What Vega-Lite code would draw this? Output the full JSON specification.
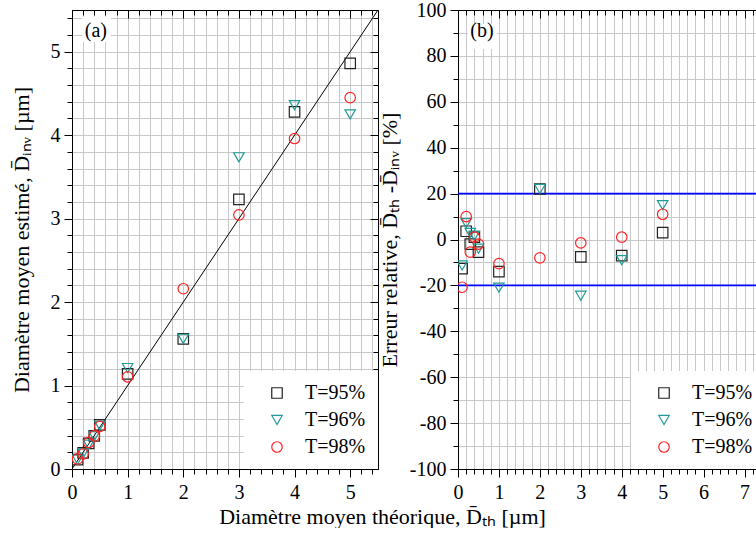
{
  "$schema": "https://vega.github.io/schema/vega-lite/v6.json",
  "background": "white",
  "padding": {"left": 9, "top": -1, "right": 0, "bottom": 0},
  "config": {
    "font": "Liberation Serif",
    "view": {"stroke": "#000", "strokeWidth": 1},
    "axis": {
      "labelFont": "Liberation Serif", "labelFontSize": 20, "labelColor": "#000",
      "titleFont": "Liberation Serif", "titleFontSize": 22, "titleFontWeight": "normal", "titleColor": "#000",
      "domainColor": "#000", "domainWidth": 1, "tickColor": "#000", "tickWidth": 1,
      "gridColor": "#c8c8c8", "gridWidth": 1, "labelFlush": false, "labelOverlap": false
    },
    "legend": {
      "orient": "bottom-right", "offset": 0, "padding": 12, "fillColor": "white",
      "labelFont": "Liberation Serif", "labelFontSize": 20, "labelColor": "#000",
      "symbolSize": 110, "symbolStrokeWidth": 1.2, "symbolOffset": 11, "labelOffset": 18, "rowPadding": 7
    }
  },
  "datasets": {
    "pts": [
      {"T": "T=95%", "Dth": 0.1, "Dinv": 0.113, "err": -12.7},
      {"T": "T=95%", "Dth": 0.2, "Dinv": 0.193, "err": 3.6},
      {"T": "T=95%", "Dth": 0.3, "Dinv": 0.306, "err": -2},
      {"T": "T=95%", "Dth": 0.4, "Dinv": 0.396, "err": 1},
      {"T": "T=95%", "Dth": 0.5, "Dinv": 0.528, "err": -5.5},
      {"T": "T=95%", "Dth": 1, "Dinv": 1.14, "err": -14},
      {"T": "T=95%", "Dth": 2, "Dinv": 1.56, "err": 22},
      {"T": "T=95%", "Dth": 3, "Dinv": 3.23, "err": -7.6},
      {"T": "T=95%", "Dth": 4, "Dinv": 4.28, "err": -7},
      {"T": "T=95%", "Dth": 5, "Dinv": 4.86, "err": 3},
      {"T": "T=96%", "Dth": 0.1, "Dinv": 0.111, "err": -11.3},
      {"T": "T=96%", "Dth": 0.2, "Dinv": 0.186, "err": 7.1},
      {"T": "T=96%", "Dth": 0.3, "Dinv": 0.291, "err": 2.9},
      {"T": "T=96%", "Dth": 0.4, "Dinv": 0.393, "err": 1.7},
      {"T": "T=96%", "Dth": 0.5, "Dinv": 0.52, "err": -4},
      {"T": "T=96%", "Dth": 1, "Dinv": 1.21, "err": -21},
      {"T": "T=96%", "Dth": 2, "Dinv": 1.56, "err": 22},
      {"T": "T=96%", "Dth": 3, "Dinv": 3.735, "err": -24.5},
      {"T": "T=96%", "Dth": 4, "Dinv": 4.36, "err": -9},
      {"T": "T=96%", "Dth": 5, "Dinv": 4.25, "err": 15},
      {"T": "T=98%", "Dth": 0.1, "Dinv": 0.121, "err": -20.8},
      {"T": "T=98%", "Dth": 0.2, "Dinv": 0.18, "err": 10},
      {"T": "T=98%", "Dth": 0.3, "Dinv": 0.3165, "err": -5.5},
      {"T": "T=98%", "Dth": 0.4, "Dinv": 0.396, "err": 1},
      {"T": "T=98%", "Dth": 0.5, "Dinv": 0.51, "err": -2},
      {"T": "T=98%", "Dth": 1, "Dinv": 1.105, "err": -10.5},
      {"T": "T=98%", "Dth": 2, "Dinv": 2.16, "err": -8},
      {"T": "T=98%", "Dth": 3, "Dinv": 3.045, "err": -1.5},
      {"T": "T=98%", "Dth": 4, "Dinv": 3.96, "err": 1},
      {"T": "T=98%", "Dth": 5, "Dinv": 4.45, "err": 11}
    ],
    "diag": [{"x": 0, "y": 0}, {"x": 5.5, "y": 5.5}],
    "ref": [{"y": 20}, {"y": -20}],
    "labA": [{"p": "(a)"}],
    "labB": [{"p": "(b)"}]
  },
  "spacing": 80,
  "bounds": "flush",
  "resolve": {"scale": {"color": "independent", "shape": "independent"}},
  "hconcat": [
    {
      "width": 306,
      "height": 459,
      "resolve": {"axis": {"x": "independent", "y": "independent"}},
      "layer": [
        {
          "data": {"name": "labA"},
          "mark": {"type": "rect", "fill": "white", "stroke": null},
          "encoding": {
            "x": {"datum": 0.18, "type": "quantitative", "scale": {"domain": [0, 5.5], "nice": false, "zero": false},
              "axis": {"orient": "top", "values": [0,0.2,0.4,0.6,0.8,1,1.2,1.4,1.6,1.8,2,2.2,2.4,2.6,2.8,3,3.2,3.4,3.6,3.8,4,4.2,4.4,4.6,4.8,5,5.2,5.4],
                "labels": false, "grid": false, "title": null,
                "tickSize": {"condition": {"test": "datum.value % 1 === 0", "value": -8}, "value": -5}}},
            "x2": {"datum": 0.7},
            "y": {"datum": 5.12, "type": "quantitative", "scale": {"domain": [0, 5.5], "nice": false, "zero": false},
              "axis": {"orient": "right", "values": [0,0.2,0.4,0.6,0.8,1,1.2,1.4,1.6,1.8,2,2.2,2.4,2.6,2.8,3,3.2,3.4,3.6,3.8,4,4.2,4.4,4.6,4.8,5,5.2,5.4],
                "labels": false, "grid": false, "title": null,
                "tickSize": {"condition": {"test": "datum.value % 1 === 0", "value": -8}, "value": -5}}},
            "y2": {"datum": 5.42}
          }
        },
        {
          "data": {"name": "labA"},
          "mark": {"type": "text", "font": "Liberation Serif", "fontSize": 20, "color": "#000"},
          "encoding": {
            "x": {"datum": 0.43, "type": "quantitative", "axis": null},
            "y": {"datum": 5.25, "type": "quantitative", "axis": null},
            "text": {"field": "p"}
          }
        },
        {
          "data": {"name": "diag"},
          "mark": {"type": "line", "color": "#000", "strokeWidth": 1, "clip": true},
          "encoding": {
            "x": {"field": "x", "type": "quantitative", "axis": null},
            "y": {"field": "y", "type": "quantitative", "axis": null}
          }
        },
        {
          "data": {"name": "pts"},
          "mark": {"type": "point", "filled": false, "opacity": 1, "strokeWidth": 1.2, "size": 110, "clip": true},
          "encoding": {
            "x": {"field": "Dth", "type": "quantitative", "scale": {"domain": [0, 5.5], "nice": false, "zero": false},
              "axis": {"orient": "bottom", "values": [0,0.2,0.4,0.6,0.8,1,1.2,1.4,1.6,1.8,2,2.2,2.4,2.6,2.8,3,3.2,3.4,3.6,3.8,4,4.2,4.4,4.6,4.8,5,5.2,5.4],
                "labelExpr": "datum.value % 1 === 0 ? '' + datum.value : ''",
                "labelFont": "Liberation Serif",
                "tickSize": {"condition": {"test": "datum.value % 1 === 0", "value": 8}, "value": 5},
                "labelPadding": 5, "grid": true,
                "title": "Diamètre moyen théorique, D̄ₜₕ [µm]", "titleFont": "Liberation Serif", "titleX": 310, "titleY": 37, "titleAlign": "center", "titleBaseline": "top"}},
            "y": {"field": "Dinv", "type": "quantitative", "scale": {"domain": [0, 5.5], "nice": false, "zero": false},
              "axis": {"orient": "left", "values": [0,0.2,0.4,0.6,0.8,1,1.2,1.4,1.6,1.8,2,2.2,2.4,2.6,2.8,3,3.2,3.4,3.6,3.8,4,4.2,4.4,4.6,4.8,5,5.2,5.4],
                "labelExpr": "datum.value % 1 === 0 ? '' + datum.value : ''",
                "labelFont": "Liberation Serif",
                "tickSize": {"condition": {"test": "datum.value % 1 === 0", "value": 8}, "value": 5},
                "labelPadding": 4, "grid": true,
                "title": "Diamètre moyen estimé, D̄ᵢₙᵥ [µm]", "titleFont": "Liberation Serif", "titlePadding": 17}},
            "color": {"field": "T", "type": "nominal",
              "scale": {"domain": ["T=95%", "T=96%", "T=98%"], "range": ["#222222", "#1f9a96", "#ff2222"]},
              "legend": {"title": null, "labelFont": "Liberation Serif"}},
            "shape": {"field": "T", "type": "nominal",
              "scale": {"domain": ["T=95%", "T=96%", "T=98%"], "range": ["square", "triangle-down", "circle"]},
              "legend": {"title": null, "labelFont": "Liberation Serif"}}
          }
        }
      ]
    },
    {
      "width": 307,
      "height": 459,
      "resolve": {"axis": {"x": "independent", "y": "independent"}},
      "layer": [
        {
          "data": {"name": "labB"},
          "mark": {"type": "rect", "fill": "white", "stroke": null},
          "encoding": {
            "x": {"datum": 0.24, "type": "quantitative", "scale": {"domain": [0, 7.5], "nice": false, "zero": false},
              "axis": {"orient": "top", "values": [0,0.2,0.4,0.6,0.8,1,1.2,1.4,1.6,1.8,2,2.2,2.4,2.6,2.8,3,3.2,3.4,3.6,3.8,4,4.2,4.4,4.6,4.8,5,5.2,5.4,5.6,5.8,6,6.2,6.4,6.6,6.8,7,7.2,7.4],
                "labels": false, "grid": false, "title": null,
                "tickSize": {"condition": {"test": "datum.value % 1 === 0", "value": -8}, "value": -5}}},
            "x2": {"datum": 0.95},
            "y": {"datum": 83, "type": "quantitative", "scale": {"domain": [-100, 100], "nice": false, "zero": false},
              "axis": {"orient": "right", "values": [-100,-90,-80,-70,-60,-50,-40,-30,-20,-10,0,10,20,30,40,50,60,70,80,90,100],
                "labels": false, "grid": false, "title": null,
                "tickSize": {"condition": {"test": "datum.value % 20 === 0", "value": -8}, "value": -5}}},
            "y2": {"datum": 93.9}
          }
        },
        {
          "data": {"name": "labB"},
          "mark": {"type": "text", "font": "Liberation Serif", "fontSize": 20, "color": "#000"},
          "encoding": {
            "x": {"datum": 0.585, "type": "quantitative", "axis": null},
            "y": {"datum": 90.8, "type": "quantitative", "axis": null},
            "text": {"field": "p"}
          }
        },
        {
          "data": {"name": "ref"},
          "mark": {"type": "rule", "color": "#0000ff", "strokeWidth": 1.6},
          "encoding": {
            "y": {"field": "y", "type": "quantitative", "axis": null}
          }
        },
        {
          "data": {"name": "pts"},
          "mark": {"type": "point", "filled": false, "opacity": 1, "strokeWidth": 1.2, "size": 110, "clip": true},
          "encoding": {
            "x": {"field": "Dth", "type": "quantitative", "scale": {"domain": [0, 7.5], "nice": false, "zero": false},
              "axis": {"orient": "bottom", "values": [0,0.2,0.4,0.6,0.8,1,1.2,1.4,1.6,1.8,2,2.2,2.4,2.6,2.8,3,3.2,3.4,3.6,3.8,4,4.2,4.4,4.6,4.8,5,5.2,5.4,5.6,5.8,6,6.2,6.4,6.6,6.8,7,7.2,7.4],
                "labelExpr": "datum.value % 1 === 0 ? '' + datum.value : ''",
                "labelFont": "Liberation Serif",
                "tickSize": {"condition": {"test": "datum.value % 1 === 0", "value": 8}, "value": 5},
                "labelPadding": 5, "grid": true, "title": null}},
            "y": {"field": "err", "type": "quantitative", "scale": {"domain": [-100, 100], "nice": false, "zero": false},
              "axis": {"orient": "left", "values": [-100,-90,-80,-70,-60,-50,-40,-30,-20,-10,0,10,20,30,40,50,60,70,80,90,100],
                "labelExpr": "datum.value % 20 === 0 ? '' + datum.value : ''",
                "labelFont": "Liberation Serif",
                "tickSize": {"condition": {"test": "datum.value % 20 === 0", "value": 8}, "value": 5},
                "labelPadding": 4, "grid": true,
                "title": "Erreur relative, D̄ₜₕ -D̄ᵢₙᵥ [%]", "titleFont": "Liberation Serif", "titlePadding": 8}},
            "color": {"field": "T", "type": "nominal",
              "scale": {"domain": ["T=95%", "T=96%", "T=98%"], "range": ["#222222", "#1f9a96", "#ff2222"]},
              "legend": {"title": null, "labelFont": "Liberation Serif"}},
            "shape": {"field": "T", "type": "nominal",
              "scale": {"domain": ["T=95%", "T=96%", "T=98%"], "range": ["square", "triangle-down", "circle"]},
              "legend": {"title": null, "labelFont": "Liberation Serif"}}
          }
        }
      ]
    }
  ]
}
